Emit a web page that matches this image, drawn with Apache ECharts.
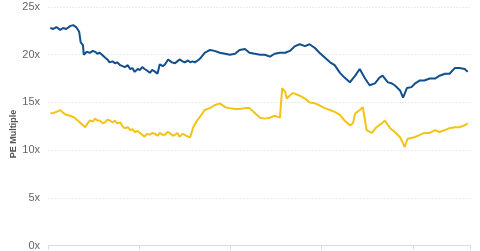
<!DOCTYPE html>
<html>
<head>
<meta charset="utf-8">
<script src="https://cdn.jsdelivr.net/npm/echarts@6/dist/echarts.min.js"></script>
<style>html,body{margin:0;padding:0;background:#fff;}#c{width:480px;height:251px;}</style>
</head>
<body>
<div id="c"></div>
<script>
// x = months from start of series
const blueMonths = [0.3,0.7,1.1,1.6,2.0,2.4,2.9,3.3,3.7,4.1,4.3,4.6,4.7,4.9,5.1,5.5,5.9,6.2,6.5,6.8,7.1,7.5,7.8,8.1,8.5,8.8,9.1,9.5,9.8,10.1,10.5,10.8,11.1,11.4,11.8,12.1,12.4,12.7,13.1,13.4,13.7,14.1,14.4,14.7,15.1,15.4,15.8,16.3,16.7,17.0,17.3,17.7,18.0,18.4,18.7,19.0,19.3,19.7,20.0,20.6,21.3,21.9,22.6,23.3,23.9,24.6,25.2,25.9,26.5,27.2,27.9,28.5,29.2,29.8,30.5,31.2,31.8,32.5,33.1,33.8,34.4,35.1,35.7,36.4,37.1,37.7,38.4,39.0,39.7,40.4,41.0,41.7,42.3,43.0,43.6,44.0,44.7,45.2,45.6,46.3,46.7,47.2,47.8,48.3,48.9,49.5,50.2,50.9,51.5,52.2,52.8,53.5,54.1,54.8,55.2];
const blueValues = [22.8,22.7,22.9,22.6,22.8,22.7,23.0,23.1,22.9,22.4,21.3,21.0,20.0,19.9,20.3,20.2,20.4,20.3,20.1,20.2,20.0,19.7,19.5,19.2,19.3,19.1,19.2,18.9,18.8,18.7,18.9,18.5,18.6,18.2,18.5,18.4,18.7,18.5,18.3,18.1,18.4,18.2,18.0,19.0,18.8,19.0,19.5,19.2,19.1,19.3,19.5,19.3,19.2,19.4,19.2,19.3,19.2,19.4,19.6,20.2,20.5,20.4,20.2,20.1,20.0,20.1,20.5,20.6,20.2,20.1,20.0,20.0,19.8,20.1,20.2,20.2,20.4,20.9,21.1,20.9,21.1,20.7,20.2,19.7,19.2,18.9,18.1,17.6,17.1,17.8,18.5,17.5,16.8,17.0,17.6,17.8,17.1,17.0,16.8,16.25,15.5,16.5,16.6,17.0,17.3,17.3,17.5,17.5,17.8,18.0,18.0,18.6,18.6,18.5,18.2];

const yellowMonths = [0.3,0.7,1.1,1.6,2.0,2.4,2.9,3.5,4.2,4.6,4.9,5.2,5.5,5.9,6.2,6.5,6.8,7.2,7.5,7.8,8.1,8.5,8.8,9.1,9.5,9.8,10.1,10.5,10.8,11.1,11.4,11.8,12.1,12.4,12.7,13.0,13.4,13.7,14.1,14.4,14.7,15.1,15.4,15.7,16.0,16.4,16.7,17.0,17.3,17.7,18.0,18.4,18.7,19.1,19.6,20.0,20.6,21.3,21.9,22.6,23.3,23.9,24.6,25.2,25.9,26.5,27.2,27.9,28.5,29.2,29.8,30.5,30.8,31.2,31.4,32.2,33.1,33.8,34.4,35.1,35.7,36.4,37.1,37.7,38.4,39.0,39.7,40.1,40.4,41.0,41.4,41.7,41.9,42.6,43.2,43.9,44.3,45.0,45.6,46.3,46.7,46.9,47.3,48.2,48.9,49.5,50.2,50.9,51.5,52.2,52.8,53.5,54.1,54.8,55.2];
const yellowValues = [13.85,13.9,14.0,14.2,13.9,13.7,13.6,13.4,12.9,12.6,12.4,12.8,13.1,13.0,13.3,13.1,13.1,12.8,12.9,13.2,13.1,12.9,13.1,12.8,12.9,12.5,12.3,12.4,12.1,12.2,11.9,12.0,11.8,11.6,11.4,11.7,11.6,11.8,11.7,11.5,11.8,11.6,11.6,11.9,11.8,11.5,11.6,11.8,11.4,11.7,11.6,11.4,11.35,12.4,13.1,13.5,14.2,14.4,14.7,14.9,14.5,14.4,14.3,14.3,14.4,14.4,13.9,13.4,13.3,13.4,13.6,13.4,16.5,16.1,15.4,16.0,15.7,15.4,15.0,14.9,14.7,14.4,14.2,14.0,13.7,13.1,12.6,12.8,13.85,14.2,14.5,13.1,12.1,11.8,12.4,12.8,13.1,12.3,11.9,11.35,10.7,10.3,11.2,11.35,11.6,11.8,11.8,12.1,11.9,12.1,12.3,12.4,12.4,12.6,12.8];

const yTicks = [0,5,10,15,20,25];

const pair = (xs, ys) => xs.map((x, i) => [x, ys[i]]);

const chart = echarts.init(document.getElementById('c'), null, {renderer: 'canvas'});
chart.setOption({
  animation: false,
  backgroundColor: '#fff',
  textStyle: {fontFamily: 'Liberation Sans, Arial, sans-serif'},
  grid: {left: 48, right: 10, top: 7, bottom: 5, containLabel: false},
  xAxis: {
    type: 'value', min: 0, max: 55.5, interval: 12,
    axisLine: {show: true, lineStyle: {color: '#dcdcdc', width: 1}},
    axisTick: {show: true, length: 4, lineStyle: {color: '#dcdcdc'}},
    axisLabel: {show: false},
    splitLine: {show: false}
  },
  yAxis: {
    type: 'value', min: yTicks[0], max: yTicks[yTicks.length - 1], interval: 5,
    axisLine: {show: false}, axisTick: {show: false},
    axisLabel: {color: '#666', fontSize: 11, margin: 8, formatter: v => v + 'x'},
    splitLine: {lineStyle: {color: '#ececec', width: 1, type: [2, 1]}}
  },
  graphic: [{
    type: 'text', x: 14, y: 134, rotation: Math.PI / 2,
    style: {text: 'PE Multiple', fill: '#555', font: 'bold 9px Liberation Sans, Arial, sans-serif', align: 'center', verticalAlign: 'middle'}
  }],
  series: [
    {type: 'line', data: pair(blueMonths, blueValues), showSymbol: false, lineStyle: {color: '#134f8c', width: 2}, itemStyle: {color: '#134f8c'}},
    {type: 'line', data: pair(yellowMonths, yellowValues), showSymbol: false, lineStyle: {color: '#f3c316', width: 2}, itemStyle: {color: '#f3c316'}}
  ]
});
</script>
</body>
</html>
